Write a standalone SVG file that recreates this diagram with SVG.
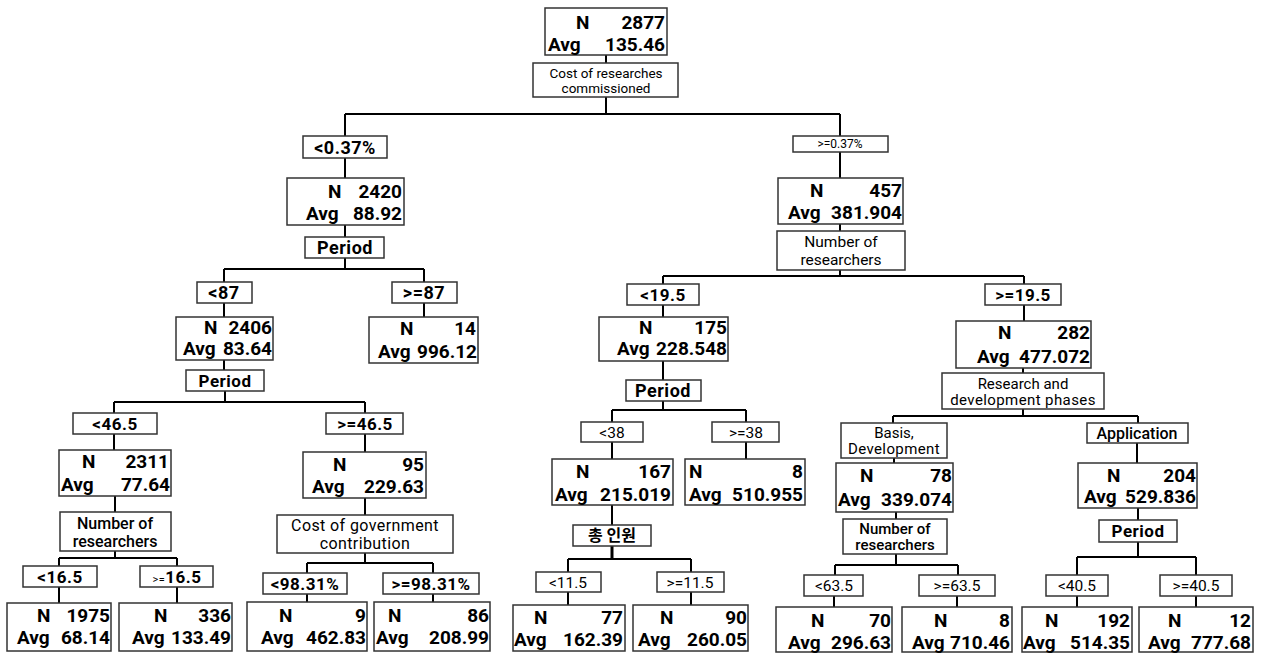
<svg xmlns="http://www.w3.org/2000/svg" width="1261" height="653" viewBox="0 0 1261 653">
<defs>
<style>
.bx{fill:#fff;stroke:#333;stroke-width:1.5}
.cn{fill:none;stroke:#000;stroke-width:2}
text{font-family:Roboto,"Noto Sans CJK KR",sans-serif;fill:#000}
.n{font-size:19px;font-weight:700}
.v{font-size:19px;font-weight:700;text-anchor:end}
.c{font-size:18px;font-weight:700;text-anchor:middle;letter-spacing:0.5px}
.s{font-size:15.5px;text-anchor:middle}
.k{font-family:"Noto Sans CJK KR",sans-serif;font-size:16px;font-weight:700;text-anchor:middle}
</style>
</defs>
<rect width="1261" height="653" fill="#fff"/>
<g id="connectors">
<path class="cn" d="M606 55V63M606 97V114M345 114H840M345 114V136M840 114V136M345 158V178M840 152V178"/>
<path class="cn" d="M345 225V237M345 258V269M224 269H424M224 269V282M424 269V282M224 303V317M424 303V317"/>
<path class="cn" d="M224 360V370M225 391V402M114 402H365M114 402V413M365 402V413M114 434V450M365 434V452"/>
<path class="cn" d="M115 496V512M115 551V558M59 558H177M59 558V566M177 558V566M59 587V603M177 587V603"/>
<path class="cn" d="M365 498V515M365 553V563M307 563H433M307 563V573M433 563V573M307 594V602M433 594V602"/>
<path class="cn" d="M840 224V231M840 270V276M663 276H1024M663 276V284M1024 276V284M663 305V317M1024 305V321"/>
<path class="cn" d="M663 361V380M663 401V410M612 410H746M612 410V422M746 410V422M612 442V459M746 442V459"/>
<path class="cn" d="M612 505V525M568 559H691M568 559V572M691 559V572M568 592V605M691 592V605"/>
<path class="cn" d="M612 546V559" style="stroke-width:3"/>
<path class="cn" d="M1023 368V373M1023 409V416M893 416H1138M893 416V423M1138 416V423M894 458V463M1137 443V463"/>
<path class="cn" d="M896 512V519M896 554V565M835 565H958M835 565V575M958 565V575M834 596V607M957 596V607"/>
<path class="cn" d="M1138 508V520M1138 542V557M1077 557H1196M1077 557V575M1196 557V575M1077 596V607M1196 596V607"/>
</g>

<g id="root"><rect class="bx" x="545" y="8" width="122" height="47"/>
<text class="n" x="576" y="29">N</text><text class="v" x="665" y="29">2877</text>
<text class="n" x="548" y="51">Avg</text><text class="v" x="665" y="51">135.46</text></g>
<g id="split-root"><rect class="bx" x="533" y="63" width="145" height="34"/>
<text class="s" x="606" y="78" style="font-size:13.5px">Cost of researches</text>
<text class="s" x="606" y="93" style="font-size:13.5px">commissioned</text></g>

<g id="lbl-lt037"><rect class="bx" x="303" y="136" width="84" height="22"/><text class="c" x="345" y="154">&lt;0.37%</text></g>
<g id="lbl-ge037"><rect class="bx" x="793" y="136" width="95" height="16"/><text class="s" x="840" y="148" style="font-size:12px">&gt;=0.37%</text></g>

<g id="n2420"><rect class="bx" x="287" y="178" width="117" height="47"/>
<text class="n" x="328" y="198">N</text><text class="v" x="402" y="198">2420</text>
<text class="n" x="306" y="220">Avg</text><text class="v" x="402" y="220">88.92</text></g>
<g id="split-2420"><rect class="bx" x="305" y="237" width="79" height="21"/><text class="c" x="345" y="254">Period</text></g>
<g id="lbl-lt87"><rect class="bx" x="197" y="282" width="55" height="21"/><text class="c" x="224" y="299">&lt;87</text></g>
<g id="lbl-ge87"><rect class="bx" x="392" y="282" width="65" height="21"/><text class="c" x="424" y="299">&gt;=87</text></g>

<g id="n2406"><rect class="bx" x="176" y="317" width="97" height="43"/>
<text class="n" x="204" y="334">N</text><text class="v" x="272" y="334">2406</text>
<text class="n" x="183" y="355">Avg</text><text class="v" x="272" y="355">83.64</text></g>
<g id="n14"><rect class="bx" x="369" y="317" width="109" height="46"/>
<text class="n" x="400" y="335">N</text><text class="v" x="476" y="335">14</text>
<text class="n" x="378" y="358">Avg</text><text class="v" x="477" y="358">996.12</text></g>
<g id="split-2406"><rect class="bx" x="186" y="370" width="78" height="21"/><text class="c" x="225" y="387" style="font-size:17px">Period</text></g>
<g id="lbl-lt465"><rect class="bx" x="73" y="413" width="84" height="21"/><text class="c" x="115" y="430" style="font-size:17px">&lt;46.5</text></g>
<g id="lbl-ge465"><rect class="bx" x="326" y="413" width="77" height="21"/><text class="c" x="365" y="430" style="font-size:17px">&gt;=46.5</text></g>

<g id="n2311"><rect class="bx" x="59" y="450" width="112" height="46"/>
<text class="n" x="82" y="468">N</text><text class="v" x="169" y="468">2311</text>
<text class="n" x="61" y="491">Avg</text><text class="v" x="170" y="491">77.64</text></g>
<g id="n95"><rect class="bx" x="303" y="452" width="123" height="46"/>
<text class="n" x="333" y="471">N</text><text class="v" x="424" y="471">95</text>
<text class="n" x="312" y="493">Avg</text><text class="v" x="424" y="493">229.63</text></g>

<g id="split-2311"><rect class="bx" x="60" y="512" width="111" height="39"/>
<text class="s" x="115" y="529" style="font-size:16px;font-weight:500">Number  of</text>
<text class="s" x="115" y="547" style="font-size:16px;font-weight:500">researchers</text></g>
<g id="split-95"><rect class="bx" x="277" y="515" width="176" height="38"/>
<text class="s" x="365" y="531" style="font-size:16px;letter-spacing:0.4px">Cost of government</text>
<text class="s" x="365" y="549" style="font-size:16px;letter-spacing:0.4px">contribution</text></g>

<g id="lbl-lt165"><rect class="bx" x="23" y="566" width="74" height="21"/><text class="c" x="60" y="583" style="font-size:17px">&lt;16.5</text></g>
<g id="lbl-ge165"><rect class="bx" x="140" y="566" width="73" height="21"/><text class="c" x="177" y="583" style="font-size:17px"><tspan style="font-size:11px;font-weight:400">&gt;=</tspan>16.5</text></g>
<g id="lbl-lt9831"><rect class="bx" x="263" y="573" width="84" height="21"/><text class="c" x="305" y="590" style="font-size:17px">&lt;98.31%</text></g>
<g id="lbl-ge9831"><rect class="bx" x="383" y="573" width="96" height="21"/><text class="c" x="431" y="590" style="font-size:17px">&gt;=98.31%</text></g>

<g id="leaf1975"><rect class="bx" x="7" y="603" width="104" height="48"/>
<text class="n" x="37" y="622">N</text><text class="v" x="110" y="622">1975</text>
<text class="n" x="17" y="644">Avg</text><text class="v" x="110" y="644">68.14</text></g>
<g id="leaf336"><rect class="bx" x="119" y="603" width="113" height="48"/>
<text class="n" x="154" y="622">N</text><text class="v" x="231" y="622">336</text>
<text class="n" x="132" y="644">Avg</text><text class="v" x="231" y="644">133.49</text></g>
<g id="leaf9"><rect class="bx" x="247" y="602" width="120" height="49"/>
<text class="n" x="279" y="622">N</text><text class="v" x="366" y="622">9</text>
<text class="n" x="261" y="644">Avg</text><text class="v" x="366" y="644">462.83</text></g>
<g id="leaf86"><rect class="bx" x="374" y="602" width="116" height="49"/>
<text class="n" x="388" y="622">N</text><text class="v" x="489" y="622">86</text>
<text class="n" x="376" y="644">Avg</text><text class="v" x="489" y="644">208.99</text></g>

<g id="n457"><rect class="bx" x="778" y="178" width="125" height="46"/>
<text class="n" x="810" y="197">N</text><text class="v" x="902" y="197">457</text>
<text class="n" x="788" y="219">Avg</text><text class="v" x="902" y="219">381.904</text></g>
<g id="split-457"><rect class="bx" x="777" y="231" width="128" height="39"/>
<text class="s" x="841" y="247">Number  of</text>
<text class="s" x="841" y="265">researchers</text></g>
<g id="lbl-lt195"><rect class="bx" x="627" y="284" width="72" height="21"/><text class="c" x="663" y="301" style="font-size:17px">&lt;19.5</text></g>
<g id="lbl-ge195"><rect class="bx" x="985" y="284" width="76" height="21"/><text class="c" x="1023" y="301" style="font-size:17px">&gt;=19.5</text></g>

<g id="n175"><rect class="bx" x="599" y="317" width="129" height="44"/>
<text class="n" x="639" y="334">N</text><text class="v" x="727" y="334">175</text>
<text class="n" x="617" y="355">Avg</text><text class="v" x="727" y="355">228.548</text></g>
<g id="n282"><rect class="bx" x="956" y="321" width="135" height="47"/>
<text class="n" x="998" y="339">N</text><text class="v" x="1090" y="339">282</text>
<text class="n" x="977" y="363">Avg</text><text class="v" x="1090" y="363">477.072</text></g>

<g id="split-175"><rect class="bx" x="626" y="380" width="75" height="21"/><text class="c" x="663" y="397">Period</text></g>
<g id="lbl-lt38"><rect class="bx" x="581" y="422" width="62" height="20"/><text class="s" x="612" y="438">&lt;38</text></g>
<g id="lbl-ge38"><rect class="bx" x="712" y="422" width="67" height="20"/><text class="s" x="746" y="438">&gt;=38</text></g>

<g id="n167"><rect class="bx" x="552" y="459" width="121" height="46"/>
<text class="n" x="576" y="478">N</text><text class="v" x="671" y="478">167</text>
<text class="n" x="555" y="501">Avg</text><text class="v" x="671" y="501">215.019</text></g>
<g id="n8a"><rect class="bx" x="685" y="459" width="120" height="46"/>
<text class="n" x="689" y="478">N</text><text class="v" x="803" y="478">8</text>
<text class="n" x="689" y="501">Avg</text><text class="v" x="803" y="501">510.955</text></g>

<g id="split-167"><rect class="bx" x="573" y="525" width="78" height="21"/><text class="k" x="612" y="541">총 인원</text></g>
<g id="lbl-lt115"><rect class="bx" x="536" y="572" width="65" height="20"/><text class="s" x="568" y="588">&lt;11.5</text></g>
<g id="lbl-ge115"><rect class="bx" x="657" y="572" width="67" height="20"/><text class="s" x="690" y="588">&gt;=11.5</text></g>
<g id="leaf77"><rect class="bx" x="513" y="605" width="112" height="46"/>
<text class="n" x="534" y="624">N</text><text class="v" x="623" y="624">77</text>
<text class="n" x="514" y="646">Avg</text><text class="v" x="623" y="646">162.39</text></g>
<g id="leaf90"><rect class="bx" x="633" y="605" width="115" height="46"/>
<text class="n" x="660" y="624">N</text><text class="v" x="747" y="624">90</text>
<text class="n" x="638" y="646">Avg</text><text class="v" x="747" y="646">260.05</text></g>

<g id="split-282"><rect class="bx" x="942" y="373" width="162" height="36"/>
<text class="s" x="1023" y="389" style="font-size:15px">Research and</text>
<text class="s" x="1023" y="405" style="font-size:15px;letter-spacing:0.4px">development phases</text></g>
<g id="lbl-basis"><rect class="bx" x="841" y="423" width="106" height="35"/>
<text class="s" x="894" y="438" style="font-size:15px">Basis,</text>
<text class="s" x="894" y="454" style="font-size:15px;letter-spacing:0.4px">Development</text></g>
<g id="lbl-app"><rect class="bx" x="1087" y="423" width="101" height="20"/><text class="s" x="1137" y="439" style="font-size:16px;font-weight:500">Application</text></g>

<g id="n78"><rect class="bx" x="836" y="463" width="117" height="49"/>
<text class="n" x="860" y="482">N</text><text class="v" x="952" y="482">78</text>
<text class="n" x="838" y="506">Avg</text><text class="v" x="952" y="506">339.074</text></g>
<g id="n204"><rect class="bx" x="1078" y="463" width="119" height="45"/>
<text class="n" x="1107" y="482">N</text><text class="v" x="1196" y="482">204</text>
<text class="n" x="1084" y="503">Avg</text><text class="v" x="1196" y="503">529.836</text></g>

<g id="split-78"><rect class="bx" x="843" y="519" width="104" height="35"/>
<text class="s" x="895" y="534" style="font-size:15px;font-weight:500">Number of</text>
<text class="s" x="895" y="550" style="font-size:15px;font-weight:500">researchers</text></g>
<g id="split-204"><rect class="bx" x="1099" y="520" width="78" height="22"/><text class="c" x="1138" y="537" style="font-size:17px">Period</text></g>

<g id="lbl-lt635"><rect class="bx" x="804" y="575" width="59" height="21"/><text class="s" x="834" y="591">&lt;63.5</text></g>
<g id="lbl-ge635"><rect class="bx" x="919" y="575" width="76" height="21"/><text class="s" x="957" y="591">&gt;=63.5</text></g>
<g id="lbl-lt405"><rect class="bx" x="1046" y="575" width="62" height="21"/><text class="s" x="1077" y="591">&lt;40.5</text></g>
<g id="lbl-ge405"><rect class="bx" x="1160" y="575" width="72" height="21"/><text class="s" x="1196" y="591">&gt;=40.5</text></g>

<g id="leaf70"><rect class="bx" x="776" y="607" width="116" height="45"/>
<text class="n" x="811" y="627">N</text><text class="v" x="891" y="627">70</text>
<text class="n" x="788" y="649">Avg</text><text class="v" x="891" y="649">296.63</text></g>
<g id="leaf8b"><rect class="bx" x="902" y="607" width="110" height="45"/>
<text class="n" x="934" y="627">N</text><text class="v" x="1010" y="627">8</text>
<text class="n" x="912" y="649">Avg</text><text class="v" x="1010" y="649">710.46</text></g>
<g id="leaf192"><rect class="bx" x="1022" y="607" width="110" height="45"/>
<text class="n" x="1045" y="627">N</text><text class="v" x="1130" y="627">192</text>
<text class="n" x="1023" y="649">Avg</text><text class="v" x="1130" y="649">514.35</text></g>
<g id="leaf12"><rect class="bx" x="1139" y="607" width="114" height="45"/>
<text class="n" x="1168" y="627">N</text><text class="v" x="1251" y="627">12</text>
<text class="n" x="1148" y="649">Avg</text><text class="v" x="1251" y="649">777.68</text></g>
</svg>
